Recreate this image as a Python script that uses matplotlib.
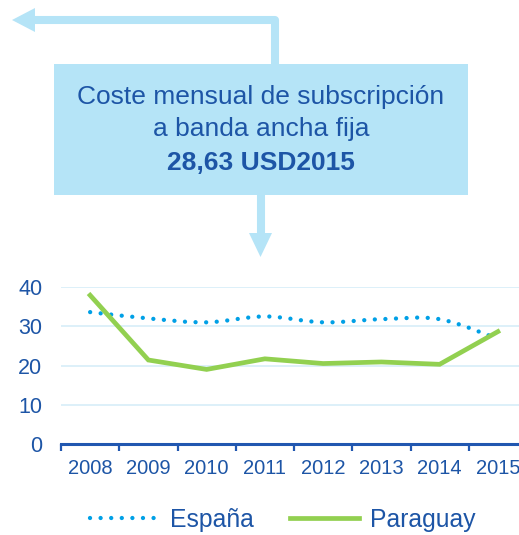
import numpy as np
import matplotlib
matplotlib.use('Agg')
import matplotlib.pyplot as plt
from matplotlib.path import Path
from matplotlib.patches import PathPatch, Polygon, Rectangle
from matplotlib.lines import Line2D

plt.rcParams['font.family'] = ['Liberation Sans', 'DejaVu Sans']

years = ['2008', '2009', '2010', '2011', '2012', '2013', '2014', '2015']
espana = [33.6, 32.0, 31.0, 32.5, 31.0, 31.8, 31.8, 26.8]
paraguay = [37.9, 21.4, 19.0, 21.7, 20.5, 20.9, 20.3, 28.63]
y_ticks = [0, 10, 20, 30, 40]
title_lines = ['Coste mensual de subscripción', 'a banda ancha fija']
title_value = '28,63 USD2015'

BLUE_TXT = '#1D55A6'
AXIS_BLUE = '#2157B0'
LIGHT = '#B5E4F7'
DOT_BLUE = '#00A0E6'
GREEN = '#92D050'

W, H = 519, 535
fig = plt.figure(figsize=(W / 100, H / 100), dpi=100)

# --- top decoration: box with arrows (pixel coords) ---
deco = fig.add_axes([0, 0, 1, 1])
deco.set_xlim(0, W)
deco.set_ylim(H, 0)
deco.axis('off')
deco.add_patch(Rectangle((54, 64), 414, 131, color=LIGHT, lw=0))
deco.add_line(Line2D([275, 275, 35], [64, 20, 20], color=LIGHT, lw=5.8,
                     solid_joinstyle='round', solid_capstyle='butt'))
deco.add_patch(Polygon([(12, 20), (35, 8), (35, 32)], color=LIGHT, lw=0))
deco.add_line(Line2D([260.5, 260.5], [195, 234], color=LIGHT, lw=5.8,
                     solid_capstyle='butt'))
deco.add_patch(Polygon([(249, 233), (272, 233), (260.5, 257)], color=LIGHT, lw=0))
deco.text(261, 97, title_lines[0], ha='center', va='center', fontsize=19, color=BLUE_TXT)
deco.text(261, 129, title_lines[1], ha='center', va='center', fontsize=19, color=BLUE_TXT)
deco.text(261, 163, title_value, ha='center', va='center', fontsize=19,
          fontweight='bold', color=BLUE_TXT)

# --- line chart ---
ax = fig.add_axes([61 / W, (H - 444) / H, 466 / W, 157 / H])
x = np.arange(len(years))
ax.set_xlim(-0.5, len(years) - 0.5)
ax.set_ylim(0, 40)

for v in y_ticks[1:]:
    ax.axhline(v, color='#D3ECF8', lw=1.1, zorder=1)

# smooth curve for España (Catmull-Rom -> cubic bezier)
pts = np.column_stack([x, espana])
ext = np.vstack([pts[0], pts, pts[-1]])
verts = [tuple(pts[0])]
codes = [Path.MOVETO]
for i in range(len(pts) - 1):
    p0, p1, p2, p3 = ext[i], ext[i + 1], ext[i + 2], ext[i + 3]
    c1 = p1 + (p2 - p0) / 6
    c2 = p2 - (p3 - p1) / 6
    verts += [tuple(c1), tuple(c2), tuple(p2)]
    codes += [Path.CURVE4] * 3
ax.add_patch(PathPatch(Path(verts, codes), fill=False, edgecolor=DOT_BLUE, lw=3.1,
                       linestyle=(0, (0.01, 2.45)), capstyle='round', zorder=3))

ax.plot(x, paraguay, color=GREEN, lw=3.4, solid_joinstyle='miter', zorder=4)

for s in ['left', 'top', 'right']:
    ax.spines[s].set_visible(False)
ax.spines['bottom'].set_color(AXIS_BLUE)
ax.spines['bottom'].set_linewidth(2.2)
ax.spines['bottom'].set_zorder(5)

ax.set_yticks(y_ticks)
ax.set_yticklabels([str(v) for v in y_ticks])
ax.tick_params(axis='y', length=0, pad=13.5, labelsize=15.5, labelcolor=BLUE_TXT)

ax.set_xticks(x)
ax.set_xticklabels(years)
ax.set_xticks(np.arange(-0.5, len(years)), minor=True)
ax.tick_params(axis='x', which='major', length=0, pad=11, labelsize=14.5, labelcolor=BLUE_TXT)
ax.tick_params(axis='x', which='minor', length=5, width=1.6, color=AXIS_BLUE, direction='out')
# keep the last year label inside the figure
ax.get_xticklabels()[-1].set_x(len(years) - 1.05)

handles = [Line2D([], [], color=DOT_BLUE, lw=3.1, linestyle=(0, (0.01, 2.45)),
                  dash_capstyle='round', solid_capstyle='round'),
           Line2D([], [], color=GREEN, lw=3.4)]
leg = fig.legend(handles, ['España', 'Paraguay'], loc='center', bbox_to_anchor=(0.545, 0.028),
                 ncol=2, frameon=False, fontsize=17.8, handlelength=2.8, handletextpad=0.45,
                 columnspacing=1.45)
for t in leg.get_texts():
    t.set_color(BLUE_TXT)

fig.savefig('out.png', dpi=100)
